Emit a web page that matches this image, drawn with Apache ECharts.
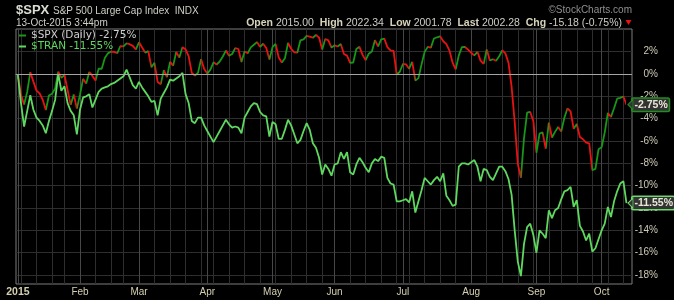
<!DOCTYPE html>
<html><head><meta charset="utf-8">
<script src="https://cdn.jsdelivr.net/npm/echarts@6/dist/echarts.min.js"></script>
<style>html,body{margin:0;padding:0;background:#000;}#chart{width:674px;height:300px;}</style>
</head><body><div id="chart"></div>
<script>
// ---- calendar (categories) ----
const START_DATE = '2015-01-02';
const END_DATE = '2015-10-13';
const HOLIDAYS = ['2015-01-19','2015-02-16','2015-04-03','2015-05-25','2015-07-03','2015-09-07'];
const MONTH_LABELS = ['Jan','Feb','Mar','Apr','May','Jun','Jul','Aug','Sep','Oct','Nov','Dec'];
const YEAR_LABEL = '2015';
const Y_TICKS = [-18,-16,-14,-12,-10,-8,-6,-4,-2,0,2];

// ---- $SPX % change since 31-Dec-2014 (one value per trading day) ----
const SPX_PCT = [
 -0.03,-1.86,-2.73,-1.60,0.16,-0.68,-1.49,-1.74,-2.31,-3.22,-1.92,-1.77,-1.30,0.21,-0.34,-0.09,-1.43,-2.76,-1.83,-3.10,
 -1.85,-0.43,-0.84,0.18,-0.17,-0.59,0.47,0.47,1.44,1.85,2.01,1.98,1.87,2.50,2.47,2.75,2.67,2.52,2.21,
 2.84,2.37,1.92,2.05,0.60,1.00,-0.72,-0.91,0.34,-0.27,1.08,0.75,1.97,1.48,2.39,2.21,1.58,0.10,-0.13,0.10,1.33,0.44,
 0.04,0.39,1.05,0.85,1.12,1.57,2.10,1.63,1.79,2.32,2.24,1.08,2.02,1.86,2.38,2.62,2.86,2.43,2.71,2.33,1.29,
 2.40,2.70,1.48,1.03,1.41,2.78,2.26,1.95,1.92,3.02,3.10,3.41,3.35,3.25,3.49,3.26,2.20,3.14,3.01,2.36,
 2.57,2.46,2.68,1.79,1.65,0.99,1.03,2.25,2.43,1.71,1.24,1.82,2.02,3.03,2.48,3.11,3.17,2.41,2.11,2.07,-0.06,0.20,
 0.90,0.87,0.48,1.09,-0.59,-0.37,0.86,1.98,2.43,2.36,3.18,3.29,3.37,2.93,2.68,2.10,1.01,0.42,1.67,2.41,2.42,2.18,
 1.90,1.67,1.99,1.20,0.91,2.20,1.22,1.32,1.19,1.59,2.11,1.85,1.01,-1.13,-4.27,-8.05,-9.29,-5.75,-3.46,-3.40,-4.21,
 -7.05,-5.34,-5.23,-6.69,-4.35,-5.68,-5.18,-4.75,-5.14,-3.92,-3.09,-3.34,-4.90,-4.47,-5.64,-5.84,-6.15,-6.20,-8.60,-8.49,-6.74,
 -6.56,-5.22,-3.49,-3.84,-3.06,-2.21,-2.14,-2.01,-2.75
];

// ---- $TRAN % change since 31-Dec-2014 ----
const TRAN_PCT = [
 -0.1,-2.6,-4.7,-3.3,-1.9,-3.2,-3.9,-4.2,-4.6,-5.3,-4.2,-3.3,-2.3,0.0,-1.5,-1.1,-2.6,-3.3,-3.7,-5.4,
 -3.2,-2.1,-2.0,-1.8,-3.0,-2.3,-1.6,-1.3,-1.2,-1.1,-0.9,-0.8,-0.6,-0.4,-0.2,0.4,-0.3,-1.0,-1.3,
 -0.7,-1.2,-1.6,-2.0,-2.5,-2.4,-3.7,-2.2,-1.7,-1.2,-0.5,-0.6,-0.4,-0.2,0.1,-1.8,-2.6,-4.2,-4.4,-3.9,-3.9,-4.6,
 -5.1,-5.6,-6.1,-5.6,-5.1,-4.6,-4.1,-4.5,-4.8,-4.7,-4.8,-5.3,-3.9,-3.4,-2.9,-2.6,-2.7,-3.4,-3.7,-3.8,-5.6,
 -4.3,-4.5,-5.8,-5.8,-5.0,-4.1,-4.6,-5.4,-6.2,-5.9,-5.1,-4.4,-5.0,-6.2,-6.6,-7.5,-9.0,-8.1,-8.5,-9.1,
 -8.1,-8.0,-7.0,-7.6,-7.0,-8.8,-9.0,-8.1,-7.5,-7.9,-8.4,-8.8,-8.0,-7.6,-7.8,-7.4,-7.5,-9.3,-9.8,-9.9,-11.4,-11.4,
 -11.3,-11.2,-11.5,-10.5,-12.4,-11.4,-10.4,-9.3,-9.6,-9.9,-9.5,-9.2,-9.6,-8.9,-10.9,-11.3,-11.8,-11.7,-8.3,-8.0,-8.0,-8.1,
 -7.9,-7.7,-8.3,-9.6,-8.5,-8.6,-9.2,-9.5,-8.9,-8.3,-8.3,-8.7,-9.4,-10.8,-14.0,-16.8,-18.1,-15.2,-13.7,-13.4,-14.4,
 -16.0,-14.0,-14.3,-14.7,-12.2,-12.9,-12.2,-12.0,-11.2,-10.5,-10.4,-10.1,-11.9,-11.3,-13.6,-14.1,-14.9,-14.3,-15.9,-15.6,-14.8,
 -14.0,-13.4,-11.9,-12.8,-11.4,-10.5,-9.8,-9.6,-11.55
];

// ---- build trading-day calendar ----
function tradingDays(s, e, hol) {
  const out = [];
  let t = Date.parse(s + 'T00:00:00Z');
  const end = Date.parse(e + 'T00:00:00Z');
  while (t <= end) {
    const d = new Date(t);
    const dow = d.getUTCDay();
    const iso = d.toISOString().slice(0, 10);
    if (dow !== 0 && dow !== 6 && hol.indexOf(iso) < 0) out.push(iso);
    t += 86400000;
  }
  return out;
}
const DATES = tradingDays(START_DATE, END_DATE, HOLIDAYS);
const monthStarts = [], weekStarts = [];
DATES.forEach((d, i) => {
  if (i === 0 || d.slice(5, 7) !== DATES[i - 1].slice(5, 7)) monthStarts.push(i);
  if (i > 0 && (Date.parse(d) - Date.parse(DATES[i - 1])) >= 3 * 86400000) weekStarts.push(i);
});

const GREEN = '#179617', RED = '#e81212', TRAN_C = '#5fd85f';
const fmt = v => v.toFixed(2) + '%';
const spxLast = SPX_PCT[SPX_PCT.length - 1], tranLast = TRAN_PCT[TRAN_PCT.length - 1];
const SPX_NAME = '$SPX (Daily) ' + fmt(spxLast);
const TRAN_NAME = '$TRAN ' + fmt(tranLast);

const pieces = [{ lte: 0, color: GREEN }];
for (let i = 1; i < SPX_PCT.length; i++) {
  pieces.push({ gt: i - 1, lte: i, color: SPX_PCT[i] >= SPX_PCT[i - 1] ? GREEN : RED });
}

const XMIN = -0.61, XMAX = 197.78;
const xBase = { type: 'value', min: XMIN, max: XMAX, position: 'bottom', gridIndex: 0 };
const LBL = '#d4cfae';

function tag(text, border) {
  return {
    show: true, distance: 6, formatter: () => text,
    color: '#e8e6d6', fontWeight: 'bold', fontSize: 10.5, fontFamily: 'Liberation Sans',
    backgroundColor: '#333', borderColor: border, borderWidth: 1.5, borderRadius: 1, padding: [1, 1, 0, 2]
  };
}
function arrow(border, coord) {
  return {
    silent: true, symbol: 'triangle', symbolSize: [10, 5], symbolRotate: 90, symbolOffset: [4, 0],
    label: { show: false }, itemStyle: { color: '#333', borderColor: border, borderWidth: 1 },
    data: [{ coord: coord }]
  };
}

const chart = echarts.init(document.getElementById('chart'), null, { renderer: 'canvas' });
chart.setOption({
  backgroundColor: '#000',
  animation: false,
  grid: { left: 16, right: 42, top: 29, bottom: 16, show: true, borderColor: '#7d7d7d', borderWidth: 1 },
  xAxis: [
    Object.assign({}, xBase, {
      axisLine: { show: true, lineStyle: { color: '#9a9a9a', type: 'dotted' } },
      axisTick: { show: false, customValues: weekStarts },
      splitLine: { show: true, lineStyle: { color: '#2e2e2e', width: 1 } },
      axisLabel: {
        customValues: monthStarts, margin: 3, color: LBL, fontSize: 10, fontFamily: 'Liberation Sans',
        formatter: v => v === 0 ? '{y|' + YEAR_LABEL + '}' : MONTH_LABELS[parseInt(DATES[v].slice(5, 7), 10) - 1],
        rich: { y: { fontWeight: 'bold', fontSize: 10.5, color: LBL, fontFamily: 'Liberation Sans' } }
      }
    }),
    Object.assign({}, xBase, {
      axisLine: { show: false },
      axisTick: { show: false, customValues: monthStarts },
      axisLabel: { show: false },
      splitLine: { show: true, lineStyle: { color: '#474747', width: 1 } }
    })
  ],
  yAxis: {
    type: 'value', min: -18.80, max: 4.03, position: 'right',
    axisLine: { show: false },
    axisTick: { show: false, customValues: Y_TICKS },
    splitLine: { show: true, lineStyle: { color: '#2e2e2e', width: 1 } },
    axisLabel: {
      customValues: Y_TICKS, formatter: v => v + '%', align: 'right', margin: 26,
      color: '#cdc9b6', fontSize: 10, fontFamily: 'Liberation Sans'
    }
  },
  visualMap: { show: false, type: 'piecewise', seriesIndex: 0, dimension: 0, pieces: pieces },
  legend: {
    left: 19, top: 30, orient: 'vertical', itemGap: 0, padding: 0, icon: 'rect',
    itemWidth: 7, itemHeight: 2, selectedMode: false,
    textStyle: { fontFamily: 'DejaVu Sans', fontSize: 10.5, lineHeight: 9, padding: 0 },
    data: [
      { name: SPX_NAME, itemStyle: { color: GREEN }, lineStyle: { color: GREEN }, textStyle: { color: '#cfcfcf' } },
      { name: TRAN_NAME, itemStyle: { color: TRAN_C }, lineStyle: { color: TRAN_C }, textStyle: { color: TRAN_C } }
    ]
  },
  series: [
    {
      name: SPX_NAME, type: 'line', z: 3, showSymbol: false, symbol: 'none',
      data: SPX_PCT.map((v, i) => [i, v]),
      lineStyle: { width: 1.8 }, itemStyle: { color: GREEN },
      endLabel: tag(fmt(spxLast), '#1f8f1f'),
      markLine: {
        silent: true, symbol: 'none', label: { show: false },
        lineStyle: { color: '#a5a5a5', width: 1, type: 'solid' },
        data: [{ yAxis: 0 }]
      },
      markPoint: arrow('#1f8f1f', [SPX_PCT.length - 1, spxLast])
    },
    {
      name: TRAN_NAME, type: 'line', z: 4, showSymbol: false, symbol: 'none',
      data: TRAN_PCT.map((v, i) => [i, v]),
      lineStyle: { width: 1.8, color: TRAN_C }, itemStyle: { color: TRAN_C },
      endLabel: tag(fmt(tranLast), '#6fd86f'),
      markPoint: arrow('#6fd86f', [TRAN_PCT.length - 1, tranLast])
    }
  ],
  graphic: [
    { type: 'text', x: 16, y: 10, style: { text: '$SPX', font: 'bold 13px "Liberation Sans"', fill: '#dcdcd2', textVerticalAlign: 'middle' } },
    { type: 'text', x: 53, y: 11, style: { text: 'S&P 500 Large Cap Index  INDX', font: '10px "Liberation Sans"', fill: '#cfcfc6', textVerticalAlign: 'middle' } },
    { type: 'text', x: 16, y: 23, style: { text: '13-Oct-2015 3:44pm', font: '10px "Liberation Sans"', fill: '#cfcfc6', textVerticalAlign: 'middle' } },
    { type: 'text', x: 632, y: 10, style: { text: '\u00A9StockCharts.com', font: '10px "Liberation Sans"', fill: '#8f8f8f', textAlign: 'right', textVerticalAlign: 'middle' } },
    { type: 'text', x: 622, y: 23, style: {
        text: '{b|Open} 2015.00  {b|High} 2022.34  {b|Low} 2001.78  {b|Last} 2002.28  {b|Chg} -15.18 (-0.75%)',
        font: '10.5px "Liberation Sans"', fill: '#cfcfc6', textAlign: 'right', textVerticalAlign: 'middle',
        rich: { b: { fontWeight: 'bold', fontSize: 10.5, fontFamily: 'Liberation Sans', fill: '#d8d4bc' } }
      } },
    { type: 'polygon', shape: { points: [[625.5, 20], [631.5, 20], [628.5, 25]] }, style: { fill: '#e81212' } }
  ]
});
</script></body></html>
